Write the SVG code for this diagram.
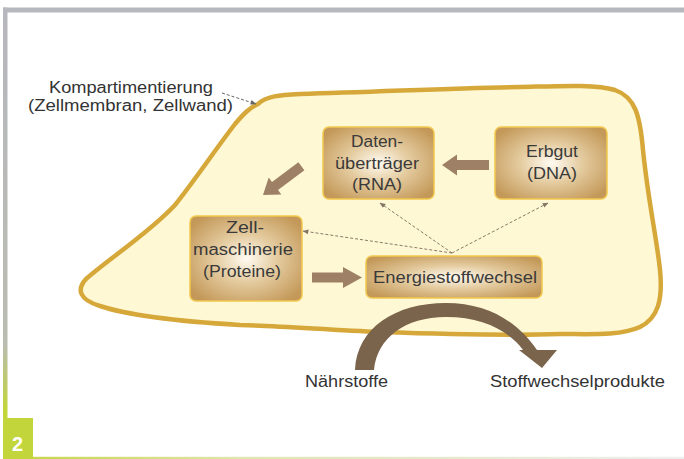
<svg xmlns="http://www.w3.org/2000/svg" width="684" height="459" viewBox="0 0 684 459">
  <defs>
    <linearGradient id="leftBar" x1="0" y1="0" x2="0" y2="459" gradientUnits="userSpaceOnUse">
      <stop offset="0" stop-color="#b7b7bf"/>
      <stop offset="0.75" stop-color="#b9bcb0"/>
      <stop offset="0.89" stop-color="#c2d53a"/>
      <stop offset="1" stop-color="#c2d53a"/>
    </linearGradient>
    <linearGradient id="bottomBar" x1="0" y1="0" x2="684" y2="0" gradientUnits="userSpaceOnUse">
      <stop offset="0" stop-color="#c2d53a"/>
      <stop offset="0.35" stop-color="#dfe6b0"/>
      <stop offset="1" stop-color="#eeeeee"/>
    </linearGradient>
    <radialGradient id="boxFill" cx="0.5" cy="0.5" r="0.62">
      <stop offset="0" stop-color="#fffbf2"/>
      <stop offset="0.45" stop-color="#e4cb9f"/>
      <stop offset="1" stop-color="#c39858"/>
    </radialGradient>
    <marker id="thinHead" viewBox="0 0 10 10" refX="9" refY="5" markerWidth="6" markerHeight="6" orient="auto" markerUnits="userSpaceOnUse">
      <path d="M0,1 L10,5 L0,9 Z" fill="#857565"/>
    </marker>
    <marker id="grayHead" viewBox="0 0 10 10" refX="9" refY="5" markerWidth="6" markerHeight="6" orient="auto" markerUnits="userSpaceOnUse">
      <path d="M0,1 L10,5 L0,9 Z" fill="#666666"/>
    </marker>
  </defs>
  <style>
    .box { fill: url(#boxFill); stroke: #f2c84e; stroke-width: 1.5; }
    .lbl { font-family: "Liberation Sans", Arial, sans-serif; font-size: 16px; fill: #3a3a3a; text-anchor: middle; }
    .out { font-family: "Liberation Sans", Arial, sans-serif; font-size: 16px; fill: #333333; }
    .thick { fill: #9d8066; }
    .dash { fill: none; stroke: #8a7a6a; stroke-width: 1; stroke-dasharray: 3 2; marker-end: url(#thinHead); }
  </style>

  <!-- frame -->
  <rect x="0" y="0" width="684" height="459" fill="#ffffff"/>
  <rect x="3" y="7.5" width="681" height="5" fill="#b7b7bf"/>
  <rect x="3" y="7.5" width="4.5" height="452" fill="url(#leftBar)"/>
  <rect x="3" y="456.8" width="681" height="2.2" fill="url(#bottomBar)"/>
  <g id="badge">
    <rect x="3" y="418" width="30" height="41" fill="#c2d53a"/>
    <text x="17.5" y="451" font-family="Liberation Sans, Arial, sans-serif" font-weight="bold" font-size="20" fill="#ffffff" text-anchor="middle">2</text>
  </g>

  <!-- cell -->
  <g id="cell">
    <path d="M 258 104 C 266 96, 280 95, 300 94 C 380 92, 450 88, 520 87 C 560 86, 595 84, 615 90 C 635 97, 640 115, 643 150 C 648 200, 657 240, 660 270 C 663 300, 658 318, 640 327 C 620 336, 590 334, 560 334 C 500 336, 440 334, 380 332 C 330 330, 280 326, 240 325 C 190 322, 130 316, 100 306 C 80 300, 76 290, 86 279 C 110 258, 150 232, 175 205 C 195 180, 215 150, 235 124 C 245 112, 250 108, 258 104 Z" fill="#fff8d4" stroke="#d6a83a" stroke-width="4.5" stroke-linejoin="round"/>
  </g>

  <g id="label-kompartimentierung">
    <text class="out" x="49" y="92.5" textLength="164" lengthAdjust="spacingAndGlyphs">Kompartimentierung</text>
    <text class="out" x="28" y="111" textLength="205" lengthAdjust="spacingAndGlyphs">(Zellmembran, Zellwand)</text>
  </g>

  <!-- connectors -->
  <g id="connectors">
    <line x1="222" y1="93" x2="256" y2="104" fill="none" stroke="#666666" stroke-width="1" stroke-dasharray="3 2" marker-end="url(#grayHead)"/>
    <polygon class="thick" transform="translate(442,165)" points="0,0 15,-10.5 15,-5 47,-5 47,5 15,5 15,10.5"/>
    <polygon class="thick" transform="translate(263,195) rotate(-36.87)" points="0,0 15,-10.5 15,-5 48,-5 48,5 15,5 15,10.5"/>
    <polygon class="thick" transform="translate(362,277.5) rotate(180)" points="0,0 19,-10.5 19,-5 50,-5 50,5 19,5 19,10.5"/>
    <line class="dash" x1="452" y1="253" x2="380" y2="203"/>
    <line class="dash" x1="452" y1="253" x2="303" y2="231"/>
    <line class="dash" x1="452" y1="253" x2="548" y2="203"/>
    <path d="M 355 370 C 357 328, 395 303, 446 303 C 488 303, 518 322, 537 350 L 557 350 L 542 368 L 519 350 L 523 350 C 508 330, 482 317, 446 317 C 405 317, 377 338, 374 370 Z" fill="#7b644c"/>
  </g>

  <!-- nodes -->
  <g id="node-rna">
    <rect class="box" x="323" y="127" width="111" height="72" rx="6"/>
    <text class="lbl" x="377" y="147" textLength="52" lengthAdjust="spacingAndGlyphs">Daten-</text>
    <text class="lbl" x="377" y="168.5" textLength="84" lengthAdjust="spacingAndGlyphs">überträger</text>
    <text class="lbl" x="377" y="190" textLength="50" lengthAdjust="spacingAndGlyphs">(RNA)</text>
  </g>
  <g id="node-dna">
    <rect class="box" x="495" y="127" width="112" height="72" rx="6"/>
    <text class="lbl" x="552" y="157" textLength="52" lengthAdjust="spacingAndGlyphs">Erbgut</text>
    <text class="lbl" x="552" y="179" textLength="50" lengthAdjust="spacingAndGlyphs">(DNA)</text>
  </g>
  <g id="node-proteine">
    <rect class="box" x="190" y="216" width="112" height="85" rx="6"/>
    <text class="lbl" x="245" y="233" textLength="38" lengthAdjust="spacingAndGlyphs">Zell-</text>
    <text class="lbl" x="243" y="255" textLength="100" lengthAdjust="spacingAndGlyphs">maschinerie</text>
    <text class="lbl" x="242" y="277" textLength="78" lengthAdjust="spacingAndGlyphs">(Proteine)</text>
  </g>
  <g id="node-energie">
    <rect class="box" x="366" y="256" width="176" height="42" rx="6"/>
    <text class="lbl" x="455" y="283" textLength="164" lengthAdjust="spacingAndGlyphs">Energiestoffwechsel</text>
  </g>

  <g id="label-naehrstoffe">
    <text class="out" x="305" y="387" textLength="83" lengthAdjust="spacingAndGlyphs">Nährstoffe</text>
  </g>
  <g id="label-produkte">
    <text class="out" x="490" y="387" textLength="175" lengthAdjust="spacingAndGlyphs">Stoffwechselprodukte</text>
  </g>
</svg>
